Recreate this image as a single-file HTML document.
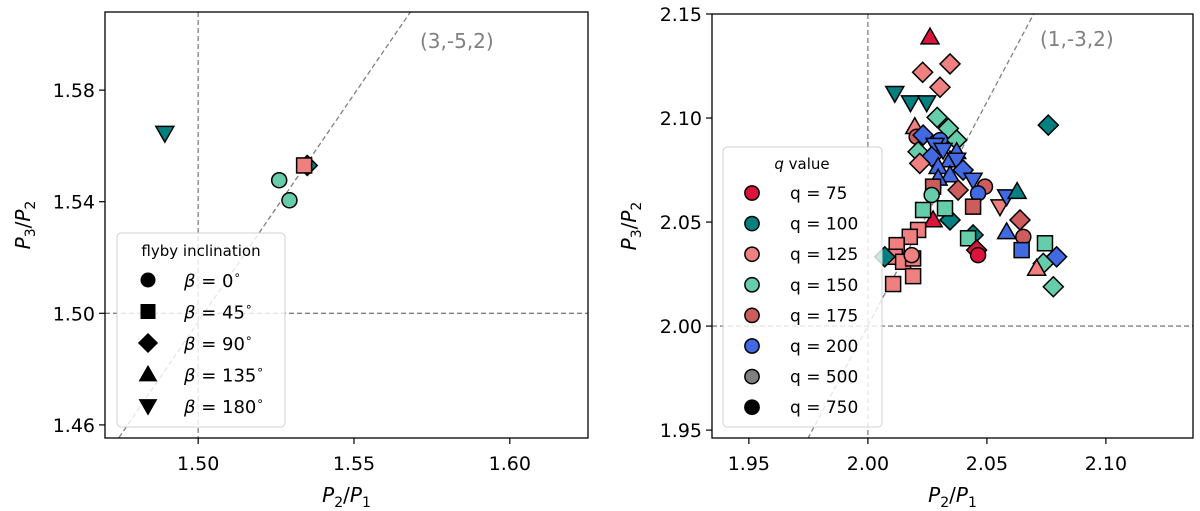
<!DOCTYPE html>
<html><head><meta charset="utf-8"><style>
body{margin:0;background:#fff;}
svg{display:block;font-family:"DejaVu Sans","Liberation Sans",sans-serif;}
</style></head><body>
<svg id="fig" width="1200" height="511" viewBox="0 0 1200 511">
<g id="left"></g>
<g id="right"></g>
</svg>
<script>
// ---------- data ----------
const leftXTicks = [1.50, 1.55, 1.60];
const leftYTicks = [1.46, 1.50, 1.54, 1.58];
const leftShapes = ['v', 'o', 'o', 'D', 's'];
const leftColors = ['#008080', '#66cdaa', '#66cdaa', '#008080', '#f08080'];
const leftX = [1.4893, 1.526, 1.5293, 1.535, 1.534];
const leftY = [1.5646, 1.5477, 1.5405, 1.553, 1.553];

const rightXTicks = [1.95, 2.00, 2.05, 2.10];
const rightYTicks = [1.95, 2.00, 2.05, 2.10, 2.15];
const rightShapes = ['D','D','D','v','v','v','D','D','D','^','o','D','D','o','v','v','^','D','D','^','v','D','^','D','^','v','^','o','o','D','s','s','o','^','D','s','s','v','v','^','D','^','o','s','s','D','D','^','D','D','s','D','o','s','s','s','s','s','s','s','s','o','^','D'];
const rightColors = ['s','s','s','t','t','t','t','g','g','s','b','B','g','B','B','B','B','g','B','B','B','s','B','B','B','B','B','b','B','b','b','b','g','r','t','g','g','s','B','t','b','B','b','B','g','B','g','s','g','t','g','r','r','s','s','s','s','s','s','s','s','s','r','t'];
const rightX = [2.0230,2.0345,2.0303,2.0113,2.0179,2.0247,2.0758,2.0291,2.0338,2.0197,2.0205,2.0232,2.0373,2.0303,2.0282,2.0316,2.0373,2.0211,2.0268,2.0345,2.0373,2.0218,2.0295,2.0400,2.0345,2.0442,2.0295,2.0492,2.0463,2.0379,2.0274,2.0442,2.0268,2.0274,2.0345,2.0232,2.0324,2.0555,2.0583,2.0627,2.0639,2.0583,2.0653,2.0646,2.0744,2.0793,2.0737,2.0709,2.0779,2.0442,2.0421,2.0457,2.0463,2.0211,2.0176,2.0121,2.0113,2.0148,2.0190,2.0190,2.0106,2.0184,2.0261,2.0071];
const rightY = [2.1220,2.1260,2.1148,2.1119,2.1074,2.1074,2.0966,2.1003,2.0950,2.0958,2.0910,2.0918,2.0894,2.0894,2.0870,2.0846,2.0838,2.0838,2.0814,2.0798,2.0798,2.0782,2.0766,2.0750,2.0726,2.0702,2.0710,2.0670,2.0638,2.0654,2.0670,2.0574,2.0630,2.0510,2.0510,2.0558,2.0566,2.0574,2.0622,2.0646,2.0510,2.0453,2.0429,2.0365,2.0398,2.0333,2.0301,2.0277,2.0189,2.0438,2.0422,2.0365,2.0341,2.0462,2.0429,2.0389,2.0333,2.0309,2.0325,2.0240,2.0202,2.0341,2.1389,2.0333];
const qLabels = ['q = 75','q = 100','q = 125','q = 150','q = 175','q = 200','q = 500','q = 750'];
const qColors = ['#dc143c','#008080','#f08080','#66cdaa','#cd5c5c','#4169e1','#808080','#000000'];
const betaLabels = ['0','45','90','135','180'];
const betaShapes = ['o','s','D','^','v'];
const colorMap = {s:'#f08080', t:'#008080', g:'#66cdaa', b:'#cd5c5c', B:'#4169e1', r:'#dc143c'};

// ---------- helpers ----------
const NS = 'http://www.w3.org/2000/svg';
function mk(parent, tag, attrs, text) {
  const e = document.createElementNS(NS, tag);
  for (const k in attrs) e.setAttribute(k, attrs[k]);
  if (text !== undefined) e.textContent = text;
  parent.appendChild(e);
  return e;
}
function marker(parent, shape, cx, cy, fill, stroke, sc) {
  sc = sc || 1;
  let e;
  if (shape === 'o') e = mk(parent, 'circle', {cx: cx, cy: cy, r: 7.5*sc});
  else if (shape === 's') { const h = 7.5*sc; e = mk(parent, 'rect', {x: cx-h, y: cy-h, width: 2*h, height: 2*h}); }
  else if (shape === 'D') { const h = 10*sc; e = mk(parent, 'polygon', {points: `${cx},${cy-h} ${cx+h},${cy} ${cx},${cy+h} ${cx-h},${cy}`}); }
  else if (shape === '^') { const h = 9*sc; e = mk(parent, 'polygon', {points: `${cx},${cy-h} ${cx+h},${cy+h*0.75} ${cx-h},${cy+h*0.75}`}); }
  else { const h = 9*sc; e = mk(parent, 'polygon', {points: `${cx},${cy+h} ${cx+h},${cy-h*0.75} ${cx-h},${cy-h*0.75}`}); }
  e.setAttribute('fill', fill);
  e.setAttribute('stroke', stroke);
  e.setAttribute('stroke-width', '1.5');
  return e;
}

function panel(g, cfg) {
  const {L, R, T, B, x0, x1, y0, y1} = cfg;
  const sx = v => L + (v - x0) / (x1 - x0) * (R - L);
  const sy = v => B - (v - y0) / (y1 - y0) * (B - T);
  const clipId = cfg.id + '-clip';
  const defs = mk(g, 'defs', {});
  const cp = mk(defs, 'clipPath', {id: clipId});
  mk(cp, 'rect', {x: L, y: T, width: R-L, height: B-T});
  const plot = mk(g, 'g', {'clip-path': `url(#${clipId})`});
  
  
  // reference lines
  const vl = mk(plot, 'line', {x1: sx(cfg.ref), x2: sx(cfg.ref), y1: T, y2: B, stroke: '#808080', 'stroke-width': 1.3, 'stroke-dasharray': '5,3'});
  
  
  const hl = mk(plot, 'line', {x1: L, x2: R, y1: sy(cfg.ref), y2: sy(cfg.ref), stroke: '#808080', 'stroke-width': 1.3, 'stroke-dasharray': '5,3'});
  
  
  const rl = mk(plot, 'line', {x1: sx(cfg.res[0]), y1: sy(cfg.res[1]), x2: sx(cfg.res[2]), y2: sy(cfg.res[3]), stroke: '#808080', 'stroke-width': 1.3, 'stroke-dasharray': '5,3'});
  
  
  const rt = mk(g, 'text', {x: cfg.resLabel[0], y: cfg.resLabel[1], fill: '#808080', 'font-size': 20}, cfg.resText);
  
  
  // points
  for (let i = 0; i < cfg.px.length; i++) {
    const m = marker(plot, cfg.shapes[i], sx(cfg.px[i]), sy(cfg.py[i]), cfg.colors[i], '#000');
    
    
  }
  // frame
  const fr = mk(g, 'rect', {x: L, y: T, width: R-L, height: B-T, fill: 'none', stroke: '#000', 'stroke-width': 1.3});
  
  
  // ticks
  cfg.xt.forEach(v => {
    const x = sx(v);
    mk(g, 'line', {x1: x, x2: x, y1: B, y2: B+6, stroke: '#000', 'stroke-width': 1.2});
    const t = mk(g, 'text', {x: x, y: B+32, 'text-anchor': 'middle', 'font-size': 19}, v.toFixed(2));
    
    
  });
  cfg.yt.forEach(v => {
    const y = sy(v);
    mk(g, 'line', {x1: L-6, x2: L, y1: y, y2: y, stroke: '#000', 'stroke-width': 1.2});
    const t = mk(g, 'text', {x: L-10, y: y+7, 'text-anchor': 'end', 'font-size': 19}, v.toFixed(2));
    
    
  });
  // axis titles
  const xtl = mk(g, 'text', {x: (L+R)/2, y: 502, 'text-anchor': 'middle', 'font-size': 20});
  
  
  xtl.innerHTML = '<tspan font-style="italic">P</tspan><tspan font-size="14" dy="5">2</tspan><tspan dy="-5">/</tspan><tspan font-style="italic">P</tspan><tspan font-size="14" dy="5">1</tspan>';
  const cx = cfg.ylabX, cy = (T+B)/2;
  const ytl = mk(g, 'text', {x: cx, y: cy, 'text-anchor': 'middle', 'font-size': 20, transform: `rotate(-90 ${cx} ${cy})`});
  
  
  ytl.innerHTML = '<tspan font-style="italic">P</tspan><tspan font-size="14" dy="5">3</tspan><tspan dy="-5">/</tspan><tspan font-style="italic">P</tspan><tspan font-size="14" dy="5">2</tspan>';
}

// left panel
const gl = document.getElementById('left');
panel(gl, {id: 'l', L: 105, R: 588, T: 12, B: 438, x0: 1.4701, x1: 1.6251, y0: 1.4553, y1: 1.6080,
  ref: 1.5, res: [1.4601, 1.4318, 1.5800, 1.6274], resLabel: [420, 48], resText: '(3,-5,2)',
  px: leftX, py: leftY, shapes: leftShapes, colors: leftColors, xt: leftXTicks, yt: leftYTicks, ylabX: 30});
// left legend
const ll = mk(gl, 'g', {});


mk(ll, 'rect', {x: 117, y: 233, width: 168, height: 194, rx: 4, fill: 'rgba(255,255,255,0.8)', stroke: '#d0d0d0', 'stroke-width': 1});
mk(ll, 'text', {x: 201, y: 256, 'text-anchor': 'middle', 'font-size': 15}, 'flyby inclination');
betaLabels.forEach((b, i) => {
  const y = 280 + i * 31.5;
  const it = mk(ll, 'g', {});
  
  
  marker(it, betaShapes[i], 148, y, '#000', '#000', 0.9);
  const t = mk(it, 'text', {x: 184, y: y + 7, 'font-size': 18});
  t.innerHTML = '<tspan font-style="italic">β</tspan> = ' + b + '<tspan font-size="12" dy="-8">∘</tspan>';
});

// right panel
const gr = document.getElementById('right');
const rc = rightColors.map(c => colorMap[c]);
panel(gr, {id: 'r', L: 712, R: 1193, T: 14, B: 438, x0: 1.9345, x1: 2.1366, y0: 1.9462, y1: 2.1500,
  ref: 2.0, res: [1.9700, 1.9357, 2.0800, 2.1722], resLabel: [1040, 46], resText: '(1,-3,2)',
  px: rightX, py: rightY, shapes: rightShapes, colors: rc, xt: rightXTicks, yt: rightYTicks, ylabX: 636});
const rl2 = mk(gr, 'g', {});


mk(rl2, 'rect', {x: 723, y: 147, width: 159, height: 280, rx: 4, fill: 'rgba(255,255,255,0.8)', stroke: '#d0d0d0', 'stroke-width': 1});
const qt = mk(rl2, 'text', {x: 802, y: 169, 'text-anchor': 'middle', 'font-size': 15});
qt.innerHTML = '<tspan font-style="italic">q</tspan> value';
qLabels.forEach((q, i) => {
  const y = 193 + i * 30.6;
  const it = mk(rl2, 'g', {});
  
  
  marker(it, 'o', 752, y, qColors[i], '#000', 0.95);
  mk(it, 'text', {x: 790, y: y + 6, 'font-size': 17}, q);
});
</script>
</body></html>
